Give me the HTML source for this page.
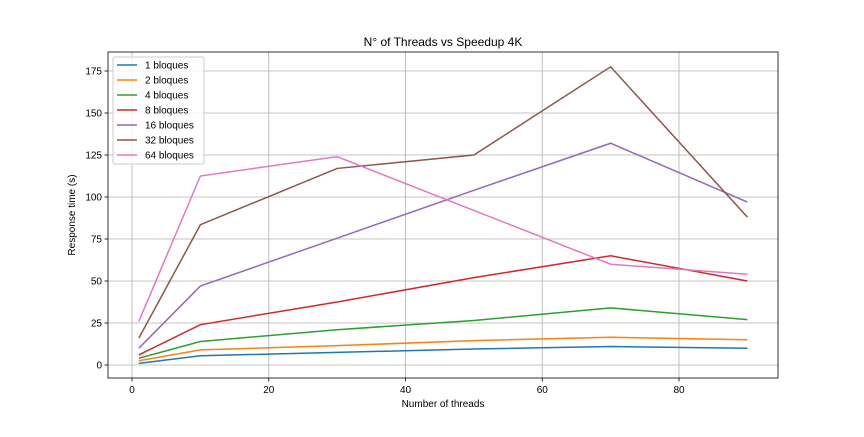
<!DOCTYPE html>
<html><head><meta charset="utf-8"><style>
body{margin:0;background:#fff;font-family:"Liberation Sans","DejaVu Sans",sans-serif;}
</style></head><body>
<svg id="chart" width="864" height="432" xmlns="http://www.w3.org/2000/svg"></svg>
<script>
const xValues=[1,10,30,50,70,90];
const seriesNames=["1 bloques","2 bloques","4 bloques","8 bloques","16 bloques","32 bloques","64 bloques"];
const s1=[1,5.5,7.5,9.5,11,10];
const s2=[2.5,9,11.5,14.5,16.5,15];
const s4=[4,14,21,26.5,34,27];
const s8=[6,24,37.5,52,65,50];
const s16=[10,47,75.5,104,132,97];
const s32=[16,83.5,117,125,177.5,88];
const s64=[26,112.5,124,92,60,54];
const xTicks=[0,20,40,60,80];
const yTicks=[0,25,50,75,100,125,150,175];
const colors=["#1f77b4","#ff7f0e","#2ca02c","#d62728","#9467bd","#8c564b","#e377c2"];
const allSeries=[s1,s2,s4,s8,s16,s32,s64];
const L=108,R=778,T=52,B=378;
const xs=v=>132+v*(679-132)/80;
const ys=v=>365-v*(365-71)/175;
const svg=document.getElementById('chart');
const NS="http://www.w3.org/2000/svg";
function mk(t,a){const e=document.createElementNS(NS,t);for(const k in a)e.setAttribute(k,a[k]);svg.appendChild(e);return e;}
let g;
xTicks.forEach(t=>{const x=xs(t);
g=mk('line',{x1:x,x2:x,y1:T,y2:B,stroke:'#b0b0b0','stroke-width':0.8});


mk('line',{x1:x,x2:x,y1:B,y2:B+3.5,stroke:'#000','stroke-width':0.8});
g=mk('text',{x:x,y:B+15,'font-size':10,'text-anchor':'middle'});g.textContent=t;


});
yTicks.forEach(t=>{const y=ys(t);
g=mk('line',{x1:L,x2:R,y1:y,y2:y,stroke:'#b0b0b0','stroke-width':0.8});


mk('line',{x1:L-3.5,x2:L,y1:y,y2:y,stroke:'#000','stroke-width':0.8});
g=mk('text',{x:L-6,y:y+3.5,'font-size':10,'text-anchor':'end'});g.textContent=t;


});
allSeries.forEach((s,i)=>{
const p=mk('polyline',{points:s.map((v,j)=>xs(xValues[j])+','+ys(v)).join(' '),fill:'none',stroke:colors[i],'stroke-width':1.5});


});
g=mk('rect',{x:L,y:T,width:R-L,height:B-T,fill:'none',stroke:'#000','stroke-width':0.8});


g=mk('text',{x:(L+R)/2,y:46,'font-size':12,'text-anchor':'middle'});g.textContent="N° of Threads vs Speedup 4K";


g=mk('text',{x:(L+R)/2,y:407,'font-size':10,'text-anchor':'middle'});g.textContent="Number of threads";


g=mk('text',{x:75,y:215,'font-size':10,'text-anchor':'middle',transform:'rotate(-90 75 215)'});g.textContent="Response time (s)";


g=mk('rect',{x:113,y:57,width:91,height:107,fill:'#fff','fill-opacity':0.8,stroke:'#ccc',rx:2});


seriesNames.forEach((n,i)=>{const y=65+i*15;
g=mk('line',{x1:117,x2:137,y1:y,y2:y,stroke:colors[i],'stroke-width':1.5});


g=mk('text',{x:145,y:y+3.5,'font-size':10});g.textContent=n;


});
</script>
</body></html>
